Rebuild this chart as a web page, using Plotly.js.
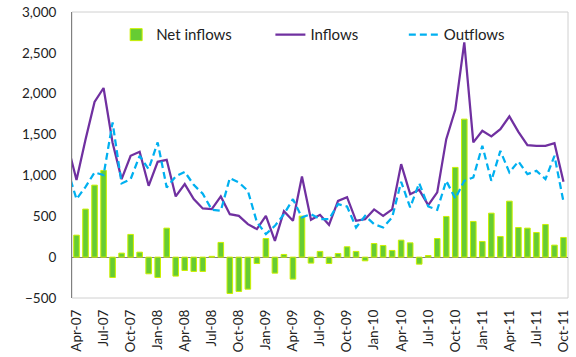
<!DOCTYPE html>
<html>
<head>
<meta charset="utf-8">
<script src="https://cdn.plot.ly/plotly-3.0.1.min.js"></script>
<style>
  html, body { margin: 0; padding: 0; background: #fff; }
  #chart { width: 576px; height: 357px; }
</style>
</head>
<body>
<div id="chart"></div>
<script>
// Monthly flows, Mar-07 to Oct-11 (Mar-07 only feeds the start of the lines)
const months = [
  "Mar-07","Apr-07","May-07","Jun-07","Jul-07","Aug-07","Sep-07","Oct-07","Nov-07","Dec-07",
  "Jan-08","Feb-08","Mar-08","Apr-08","May-08","Jun-08","Jul-08","Aug-08","Sep-08","Oct-08","Nov-08","Dec-08",
  "Jan-09","Feb-09","Mar-09","Apr-09","May-09","Jun-09","Jul-09","Aug-09","Sep-09","Oct-09","Nov-09","Dec-09",
  "Jan-10","Feb-10","Mar-10","Apr-10","May-10","Jun-10","Jul-10","Aug-10","Sep-10","Oct-10","Nov-10","Dec-10",
  "Jan-11","Feb-11","Mar-11","Apr-11","May-11","Jun-11","Jul-11","Aug-11","Sep-11","Oct-11"
];

const netInflows = [
  null,
  269, 588, 881, 1061, -249, 49, 278, 61, -204,
  -249, 355, -232, -163, -175, -175, 10, 180, -445, -420, -392, -78,
  228, -196, 33, -269, 502, -73, 70, -78, 45, 127, 70, -45,
  167, 143, 82, 208, 175, -86, 20, 228, 498, 1098, 1689, 437,
  192, 538, 253, 685, 363, 355, 302, 400, 147, 241
];

const inflows = [
  1380,
  943, 1440, 1900, 2070, 1400, 955, 1240, 1290, 873,
  1167, 1191, 743, 894, 710, 596, 588, 743, 526, 506, 404, 343,
  506, 200, 563, 445, 988, 457, 518, 396, 689, 734, 445, 465,
  584, 506, 584, 1138, 771, 824, 636, 792, 1444, 1803, 2628, 1404,
  1546, 1477, 1567, 1722, 1534, 1371, 1363, 1363, 1395, 922
];

const outflows = [
  1070,
  710, 860, 1037, 1004, 1649, 902, 955, 1240, 1077,
  1404, 853, 988, 1044, 885, 775, 580, 567, 967, 914, 812, 430,
  282, 383, 526, 710, 486, 526, 465, 465, 649, 620, 363, 506,
  404, 363, 486, 922, 608, 906, 620, 579, 934, 718, 934, 975,
  1363, 934, 1301, 1037, 1171, 1016, 1056, 955, 1240, 677
];

// Quarterly tick labels, starting at Apr-07
const tickMonths = months.filter((m, i) => i >= 1 && (i - 1) % 3 === 0);

const FONT = "Lato, 'Open Sans', sans-serif";
const TXT = "#222222";

const traces = [
  {
    type: "bar", name: "Net inflows", x: months, y: netInflows,
    marker: { color: "#66CC33", line: { color: "#CCF000", width: 1 } },
    legend: "legend"
  },
  {
    type: "scatter", mode: "lines", name: "Inflows", x: months, y: inflows,
    line: { color: "#7030A0", width: 2.25 },
    legend: "legend2"
  },
  {
    type: "scatter", mode: "lines", name: "Outflows", x: months, y: outflows,
    line: { color: "#00B0F0", width: 2.25, dash: "7px,4px" },
    legend: "legend3"
  }
];

const legendBase = {
  orientation: "h", yanchor: "middle", y: 0.92, xanchor: "left",
  bgcolor: "rgba(0,0,0,0)", borderwidth: 0,
  font: { family: FONT, size: 15, color: TXT },
  itemwidth: 30
};

const layout = {
  width: 576, height: 357,
  margin: { l: 72, r: 8, t: 12, b: 59 },
  paper_bgcolor: "#fff", plot_bgcolor: "#fff",
  font: { family: FONT, size: 13, color: TXT },
  bargap: 0.38,
  showlegend: true,
  legend:  Object.assign({}, legendBase, { x: 0.089 }),
  legend2: Object.assign({}, legendBase, { x: 0.40 }),
  legend3: Object.assign({}, legendBase, { x: 0.669 }),
  xaxis: {
    type: "category",
    categoryorder: "array", categoryarray: months,
    range: [0.5, months.length - 0.5],
    tickmode: "array", tickvals: tickMonths, ticktext: tickMonths,
    tickangle: -90, ticks: "", ticklabelstandoff: 8,
    showgrid: false, zeroline: false, showline: false,
    tickfont: { family: FONT, size: 13.5, color: TXT }
  },
  yaxis: {
    range: [-500, 3000], dtick: 500, tickformat: ",",
    ticks: "", ticklabelstandoff: 12,
    showgrid: false,
    zeroline: true, zerolinecolor: "#808080", zerolinewidth: 1,
    showline: true, linecolor: "#808080", linewidth: 1,
    tickfont: { family: FONT, size: 13.5, color: TXT }
  },
  shapes: [
    {
      type: "rect", xref: "paper", yref: "paper", x0: 0, x1: 1, y0: 0, y1: 1,
      line: { color: "#D0D0D0", width: 1 }, fillcolor: "rgba(0,0,0,0)", layer: "below"
    }
  ]
};

Plotly.newPlot("chart", traces, layout, { displayModeBar: false, staticPlot: true });
</script>
</body>
</html>
